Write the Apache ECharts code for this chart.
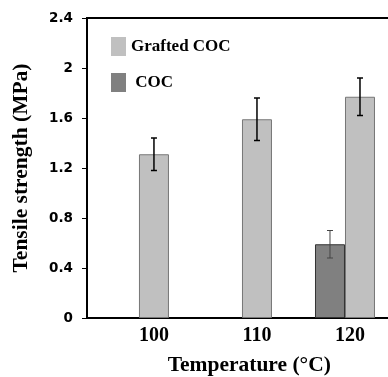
<!DOCTYPE html>
<html>
<head>
<meta charset="utf-8">
<script src="https://cdn.jsdelivr.net/npm/echarts@6/dist/echarts.min.js"></script>
<style>
html,body{margin:0;padding:0;background:#fff;}
#chart{width:388px;height:377px;}
</style>
</head>
<body>
<div id="chart"></div>
<script>
// data
var temps = [100, 110, 120];
var graftedVals = [1.31, 1.59, 1.77];
var graftedErr = [0.13, 0.17, 0.15];
var cocVals = ['-', '-', 0.59];
var cocErr = ['-', '-', 0.11];
var yTicks = [0, 0.4, 0.8, 1.2, 1.6, 2, 2.4];

var BAR_W = 30;

function pairs(vals, errs){
    var out = [];
    for(var i=0;i<temps.length;i++){
        if(vals[i] === '-') continue;
        out.push(errs ? [temps[i], vals[i], errs[i]] : [temps[i], vals[i]]);
    }
    return out;
}

// error bar drawn through the axes, shifted to the centre of its bar
function errBar(offset, color, width){
    return function(params, api){
        var x = api.value(0), v = api.value(1), e = api.value(2);
        var hi = api.coord([x, v + e]);
        var lo = api.coord([x, v - e]);
        var cx = hi[0] + offset;
        var st = {stroke: color, lineWidth: width};
        return {
            type: 'group',
            children: [
                {type:'line', shape:{x1:cx, y1:hi[1], x2:cx, y2:lo[1]}, style:st},
                {type:'line', shape:{x1:cx-3, y1:hi[1], x2:cx+3, y2:hi[1]}, style:st},
                {type:'line', shape:{x1:cx-3, y1:lo[1], x2:cx+3, y2:lo[1]}, style:st}
            ]
        };
    };
}

var chart = echarts.init(document.getElementById('chart'));
var option = {
    animation: false,
    legend: {
        data: ['Grafted COC', 'COC'],
        orient: 'vertical',
        left: 106,
        top: 32,
        icon: 'rect',
        itemWidth: 15,
        itemHeight: 19,
        itemGap: 17,
        itemStyle: {borderWidth: 0},
        formatter: function(name){ return name === 'COC' ? ' COC' : name; },
        textStyle: {fontFamily: 'Liberation Serif', fontWeight: 'bold', fontSize: 17, color: '#000'}
    },
    grid: {
        left: 87,
        top: 18,
        bottom: 59,
        right: -23.5,
        show: true,
        borderColor: '#000',
        borderWidth: 2,
        outerBoundsMode: 'none'
    },
    xAxis: {
        type: 'value',
        min: 93.5,
        max: 125,
        splitLine: {show: false},
        axisLine: {lineStyle: {color: '#000', width: 2}},
        axisTick: {show: false},
        axisLabel: {
            customValues: temps,
            margin: 8,
            color: '#000',
            fontFamily: 'Liberation Serif',
            fontWeight: 'bold',
            fontSize: 20,
            formatter: function(v){
                return v === 120 ? '{s|' + v + '}' : '{n|' + v + '}';
            },
            rich: {
                n: {fontFamily: 'Liberation Serif', fontWeight: 'bold', fontSize: 20, color: '#000'},
                s: {fontFamily: 'Liberation Serif', fontWeight: 'bold', fontSize: 20, color: '#000', padding: [0, 20, 0, 0]}
            }
        },
        name: 'Temperature (\u00B0C)',
        nameLocation: 'middle',
        nameGap: 36,
        nameTextStyle: {fontFamily: 'Liberation Serif', fontWeight: 'bold', fontSize: 21.5, color: '#000'}
    },
    yAxis: {
        type: 'value',
        min: yTicks[0],
        max: yTicks[yTicks.length-1],
        interval: 0.4,
        splitLine: {show: false},
        axisLine: {show: true, lineStyle: {color: '#000', width: 2}},
        axisTick: {show: true, length: 5, lineStyle: {color: '#000', width: 1}},
        axisLabel: {
            margin: 14,
            color: '#000',
            fontFamily: 'DejaVu Sans',
            fontWeight: 'bold',
            fontSize: 13.5
        },
        name: 'Tensile strength (MPa)',
        nameLocation: 'middle',
        nameGap: 55,
        nameTextStyle: {fontFamily: 'Liberation Serif', fontWeight: 'bold', fontSize: 21.5, color: '#000'}
    },
    series: [
        {
            name: 'COC',
            type: 'bar',
            barWidth: BAR_W,
            barGap: 0,
            itemStyle: {color: '#808080', borderColor: '#333', borderWidth: 1},
            data: pairs(cocVals)
        },
        {
            name: 'Grafted COC',
            type: 'bar',
            barWidth: BAR_W,
            barGap: 0,
            itemStyle: {color: '#c0c0c0', borderColor: '#777', borderWidth: 1},
            data: pairs(graftedVals)
        },
        {   // empty slot so the grafted bars sit on the tick
            name: 'pad',
            type: 'bar',
            barWidth: BAR_W,
            barGap: 0,
            data: []
        },
        {
            name: 'COC err',
            type: 'custom',
            renderItem: errBar(-BAR_W, '#444', 1),
            data: pairs(cocVals, cocErr),
            z: 5
        },
        {
            name: 'Grafted err',
            type: 'custom',
            renderItem: errBar(0, '#000', 1.5),
            data: pairs(graftedVals, graftedErr),
            z: 5
        }
    ]
};
chart.setOption(option);
</script>
</body>
</html>
